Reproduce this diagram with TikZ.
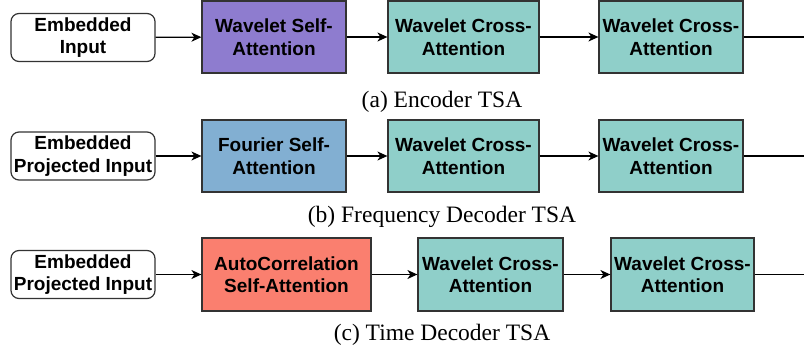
\documentclass[tikz,border=0pt]{standalone}
\usepackage{fontspec}
\setmainfont{Liberation Serif}
\newfontfamily\boxfont{Liberation Sans}
\usetikzlibrary{arrows.meta}
\definecolor{wpurple}{HTML}{8E7CCF}
\definecolor{wteal}{HTML}{8FCFC9}
\definecolor{wblue}{HTML}{82AFD2}
\definecolor{wsalmon}{HTML}{FA7F6F}
\definecolor{wborder}{HTML}{333333}
\tikzset{
  blk/.style={draw=wborder, line width=1.2pt, inner sep=0pt, align=center,
    font=\boxfont\bfseries\fontsize{19}{22.5}\selectfont, minimum height=72pt},
  inbox/.style={blk, fill=white, rounded corners=8pt, minimum width=144pt, minimum height=48pt},
  selfbox/.style={blk, minimum width=144pt},
  crossbox/.style={blk, fill=wteal},
  conn/.style={line width=1.2pt, black, -{Stealth[length=10pt,width=9pt,inset=3pt]}},
  tail/.style={line width=1.2pt, black},
  captext/.style={font=\fontsize{23.5}{26}\selectfont, inner sep=0pt}
}
\begin{document}
\begin{tikzpicture}[x=1pt,y=-1pt]
\useasboundingbox (0,0) rectangle (804,356);
% Row a
\node[inbox] (a0) at (83,37.5) {Embedded\\Input};
\node[selfbox, fill=wpurple] (a1) at (274,37) {Wavelet Self-\\Attention};
\node[crossbox, minimum width=151pt] (a2) at (463.5,37) {Wavelet Cross-\\Attention};
\node[crossbox, minimum width=144pt] (a3) at (671,37) {Wavelet Cross-\\Attention};
\coordinate (aend) at (804,37);
\draw[conn] (a0) -- (a1);
\draw[conn] (a1) -- (a2);
\draw[conn] (a2) -- (a3);
\draw[tail] (a3) -- (aend);
\node[captext] (acap) at (442,102) {(a) Encoder TSA};
% Row b
\node[inbox] (b0) at (83,156) {Embedded\\Projected Input};
\node[selfbox, fill=wblue] (b1) at (274,156) {Fourier Self-\\Attention};
\node[crossbox, minimum width=151pt] (b2) at (463.5,156) {Wavelet Cross-\\Attention};
\node[crossbox, minimum width=144pt] (b3) at (671,156) {Wavelet Cross-\\Attention};
\coordinate (bend) at (804,156);
\draw[conn] (b0) -- (b1);
\draw[conn] (b1) -- (b2);
\draw[conn] (b2) -- (b3);
\draw[tail] (b3) -- (bend);
\node[captext] (bcap) at (442,217) {(b) Frequency Decoder TSA};
% Row c
\node[inbox] (c0) at (83,274.5) {Embedded\\Projected Input};
\node[blk, fill=wsalmon, minimum width=169pt, minimum height=73pt] (c1) at (286.5,274.5) {AutoCorrelation\\Self-Attention};
\node[crossbox, minimum width=145pt, minimum height=73pt] (c2) at (490.5,274.5) {Wavelet Cross-\\Attention};
\node[crossbox, minimum width=143pt, minimum height=73pt] (c3) at (682.5,274.5) {Wavelet Cross-\\Attention};
\coordinate (cend) at (804,274.5);
\draw[conn] (c0) -- (c1);
\draw[conn] (c1) -- (c2);
\draw[conn] (c2) -- (c3);
\draw[tail] (c3) -- (cend);
\node[captext] (ccap) at (442,335) {(c) Time Decoder TSA};
\end{tikzpicture}
\end{document}
